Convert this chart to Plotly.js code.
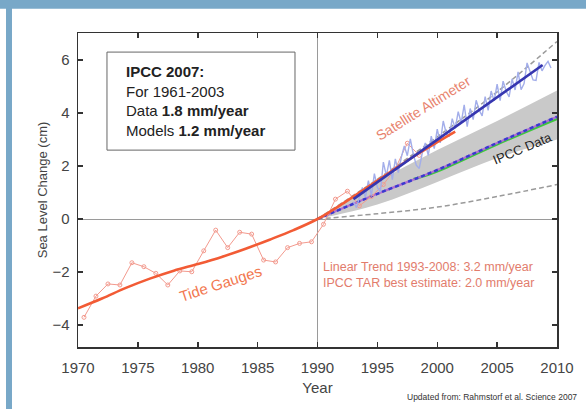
<!DOCTYPE html>
<html><head><meta charset="utf-8">
<script src="https://cdn.plot.ly/plotly-3.0.1.min.js"></script>
<style>html,body{margin:0;padding:0;background:#fff;}#chart{width:586px;height:409px;}</style>
</head><body><div id="chart"></div>
<script>
// Tide gauge annual values (cm)
const tideYears = [1970.5,1971.5,1972.5,1973.5,1974.5,1975.5,1976.5,1977.5,1978.5,1979.5,1980.5,1981.5,1982.5,1983.5,1984.5,1985.5,1986.5,1987.5,1988.5,1989.5,1990.5,1991.5,1992.5,1993.5,1994.5,1995.5,1996.5,1997.5,1998.5];
const tideValues = [-3.71,-2.91,-2.45,-2.49,-1.65,-1.80,-2.05,-2.49,-1.96,-1.99,-1.20,-0.42,-1.08,-0.50,-0.57,-1.55,-1.62,-1.08,-0.92,-0.86,-0.20,0.75,1.05,0.50,0.85,1.30,1.90,2.86,2.40];
// Smoothed tide gauge curve
const smoothYears = [1970,1972,1974,1976,1978,1980,1982,1984,1986,1988,1990,1992,1994,1996,1998,2000,2001.5];
const smoothValues = [-3.37,-3.0,-2.6,-2.25,-1.95,-1.7,-1.43,-1.12,-0.78,-0.42,0,0.55,1.15,1.75,2.35,2.9,3.3];
// Satellite altimeter
const satYears = [1993,1993.25,1993.5,1993.75,1994,1994.25,1994.5,1994.75,1995,1995.25,1995.5,1995.75,1996,1996.25,1996.5,1996.75,1997,1997.25,1997.5,1997.75,1998,1998.25,1998.5,1998.75,1999,1999.25,1999.5,1999.75,2000,2000.25,2000.5,2000.75,2001,2001.25,2001.5,2001.75,2002,2002.25,2002.5,2002.75,2003,2003.25,2003.5,2003.75,2004,2004.25,2004.5,2004.75,2005,2005.25,2005.5,2005.75,2006,2006.25,2006.5,2006.75,2007,2007.25,2007.5,2007.75,2008,2008.25,2008.5,2008.75,2009,2009.25,2009.5];
const satValues = [0.65,0.43,0.81,1.19,0.82,1.45,0.88,1.71,1.19,1.02,2.15,1.63,2.21,1.49,2.27,1.75,2.33,2.76,2.39,3.02,2.45,2.03,1.91,2.49,2.87,2.40,3.13,2.66,3.39,2.87,3.70,3.23,3.11,3.79,3.42,4.05,3.63,4.31,3.49,4.17,3.75,4.48,4.11,3.89,4.62,4.10,4.83,4.46,5.09,4.47,5.20,4.83,4.61,5.29,4.87,5.55,4.88,5.11,5.89,5.57,5.25,5.23,5.91,5.59,5.80,5.95,5.70];
// Linear trend 1993-2008
const trendYears = [1993, 2008.8];
const trendValues = [0.75, 5.81];
// IPCC projections from 1990
const projYears = [1990,1995,2000,2005,2010];
const projUpperDash = [0,1.5,3.1,4.8,6.7];
const projLowerDash = [0,0.2,0.45,0.85,1.3];
const bandUpper = [0,1.4,2.6,3.7,4.85];
const bandLower = [0,0.55,1.4,2.3,3.0];
const projCentral = [0,0.95,1.85,2.87,3.86];
const projGreenYears = [1998,2000,2005,2010];
const projGreen = [1.5,1.8,2.82,3.78];
const xTicks = [1970,1975,1980,1985,1990,1995,2000,2005,2010];
const yTicks = [-4,-2,0,2,4,6];

const traces = [
  {x: projYears, y: bandLower, mode:'lines', line:{width:0, shape:'spline'}, hoverinfo:'skip', showlegend:false},
  {x: projYears, y: bandUpper, mode:'lines', fill:'tonexty', fillcolor:'#c9c9c9', line:{width:0, shape:'spline'}, hoverinfo:'skip', showlegend:false},
  {x: projYears, y: projUpperDash, mode:'lines', line:{color:'#9a9a9a', width:1.5, dash:'5px,3px', shape:'spline'}, showlegend:false},
  {x: projYears, y: projLowerDash, mode:'lines', line:{color:'#9a9a9a', width:1.5, dash:'5px,3px', shape:'spline'}, showlegend:false},
  {x: projGreenYears, y: projGreen, mode:'lines', line:{color:'#3ec63e', width:2.5, shape:'spline'}, showlegend:false},
  {x: projYears, y: projCentral, mode:'lines', line:{color:'#b070d0', width:2.2, shape:'spline'}, showlegend:false},
  {x: projYears, y: projCentral, mode:'lines', line:{color:'#3a3ad0', width:2.5, dash:'4px,3px', shape:'spline'}, showlegend:false},
  {x: tideYears, y: tideValues, mode:'lines+markers', line:{color:'#f39a8e', width:1}, marker:{symbol:'circle-open', size:4, color:'#f39a8e'}, showlegend:false},
  {x: satYears, y: satValues, mode:'lines', line:{color:'#a3aeea', width:1.4}, showlegend:false},
  {x: smoothYears, y: smoothValues, mode:'lines', line:{color:'#f25b35', width:2.6, shape:'spline'}, showlegend:false},
  {x: trendYears, y: trendValues, mode:'lines', line:{color:'#3636b0', width:2.6}, showlegend:false}
];

const redText = '#e27c6c';
const layout = {
  width:586, height:409,
  margin:{l:78, r:29, t:33, b:62},
  paper_bgcolor:'#ffffff', plot_bgcolor:'#ffffff',
  font:{family:'Liberation Sans, Arial, sans-serif', color:'#444'},
  xaxis:{range:[1970,2010], tickvals:xTicks, ticks:'inside', ticklen:5, tickwidth:1.5, tickcolor:'#333',
    showline:true, linecolor:'#333', linewidth:1.5, mirror:'ticks', showgrid:false, zeroline:false,
    tickfont:{size:15, color:'#444'}, ticklabelstandoff:6,
    title:{text:'Year', font:{size:15, color:'#444'}, standoff:8}},
  yaxis:{range:[-4.83,7.02], tickvals:yTicks, ticks:'inside', ticklen:5, tickwidth:1.5, tickcolor:'#333',
    showline:true, linecolor:'#333', linewidth:1.5, mirror:'ticks', showgrid:false,
    zeroline:true, zerolinecolor:'#9a9a9a', zerolinewidth:1,
    tickfont:{size:15, color:'#444'}, ticklabelstandoff:4,
    title:{text:'Sea Level Change (cm)', font:{size:13, color:'#444'}, standoff:2}},
  shapes:[
    {type:'line', xref:'x', yref:'paper', x0:1990, x1:1990, y0:0, y1:1, line:{color:'#9a9a9a', width:1}, layer:'below'},
    {type:'rect', xref:'x', yref:'y', x0:1972.42, x1:1988.12, y0:2.6, y1:6.3, line:{color:'#666', width:1}, fillcolor:'#ffffff'},
    {type:'rect', xref:'paper', yref:'paper', x0:-0.2, x1:1.1, y0:1.077, y1:1.11, line:{width:0}, fillcolor:'#78a8c8'},
    {type:'rect', xref:'paper', yref:'paper', x0:-0.1503, x1:-0.1378, y0:-0.3, y1:1.08, line:{width:0}, fillcolor:'#78a8c8'}
  ],
  annotations:[
    {x:1973.84, y:5.95, xref:'x', yref:'y', xanchor:'left', yanchor:'top', align:'left', showarrow:false,
     text:'<b>IPCC 2007:</b><br>For 1961-2003<br>Data <b>1.8 mm/year</b><br>Models <b>1.2 mm/year</b>',
     font:{size:15, color:'#222', family:'Liberation Sans, Arial, sans-serif'}},
    {x:1998.85, y:4.19, xref:'x', yref:'y', text:'Satellite Altimeter', textangle:-32, showarrow:false,
     font:{size:14, color:'#e8836e'}},
    {x:1981.9, y:-2.45, xref:'x', yref:'y', text:'Tide Gauges', textangle:-18, showarrow:false,
     font:{size:15, color:'#f2774f'}},
    {x:2007.1, y:2.67, xref:'x', yref:'y', text:'IPCC Data', textangle:-23, showarrow:false,
     font:{size:13, color:'#222'}},
    {x:1990.3, y:-1.81, xref:'x', yref:'y', xanchor:'left', text:'Linear Trend 1993-2008: 3.2 mm/year', showarrow:false,
     font:{size:12.5, color:redText}},
    {x:1990.3, y:-2.42, xref:'x', yref:'y', xanchor:'left', text:'IPCC TAR best estimate: 2.0 mm/year', showarrow:false,
     font:{size:12.5, color:redText}},
    {x:(579-78)/479, y:-(397-347)/314, xref:'paper', yref:'paper', xanchor:'right', yanchor:'middle',
     text:'Updated from: Rahmstorf et al. Science 2007', showarrow:false, font:{size:8.5, color:'#333'}}
  ]
};
Plotly.newPlot('chart', traces, layout, {displayModeBar:false, staticPlot:true});
</script>
</body></html>
